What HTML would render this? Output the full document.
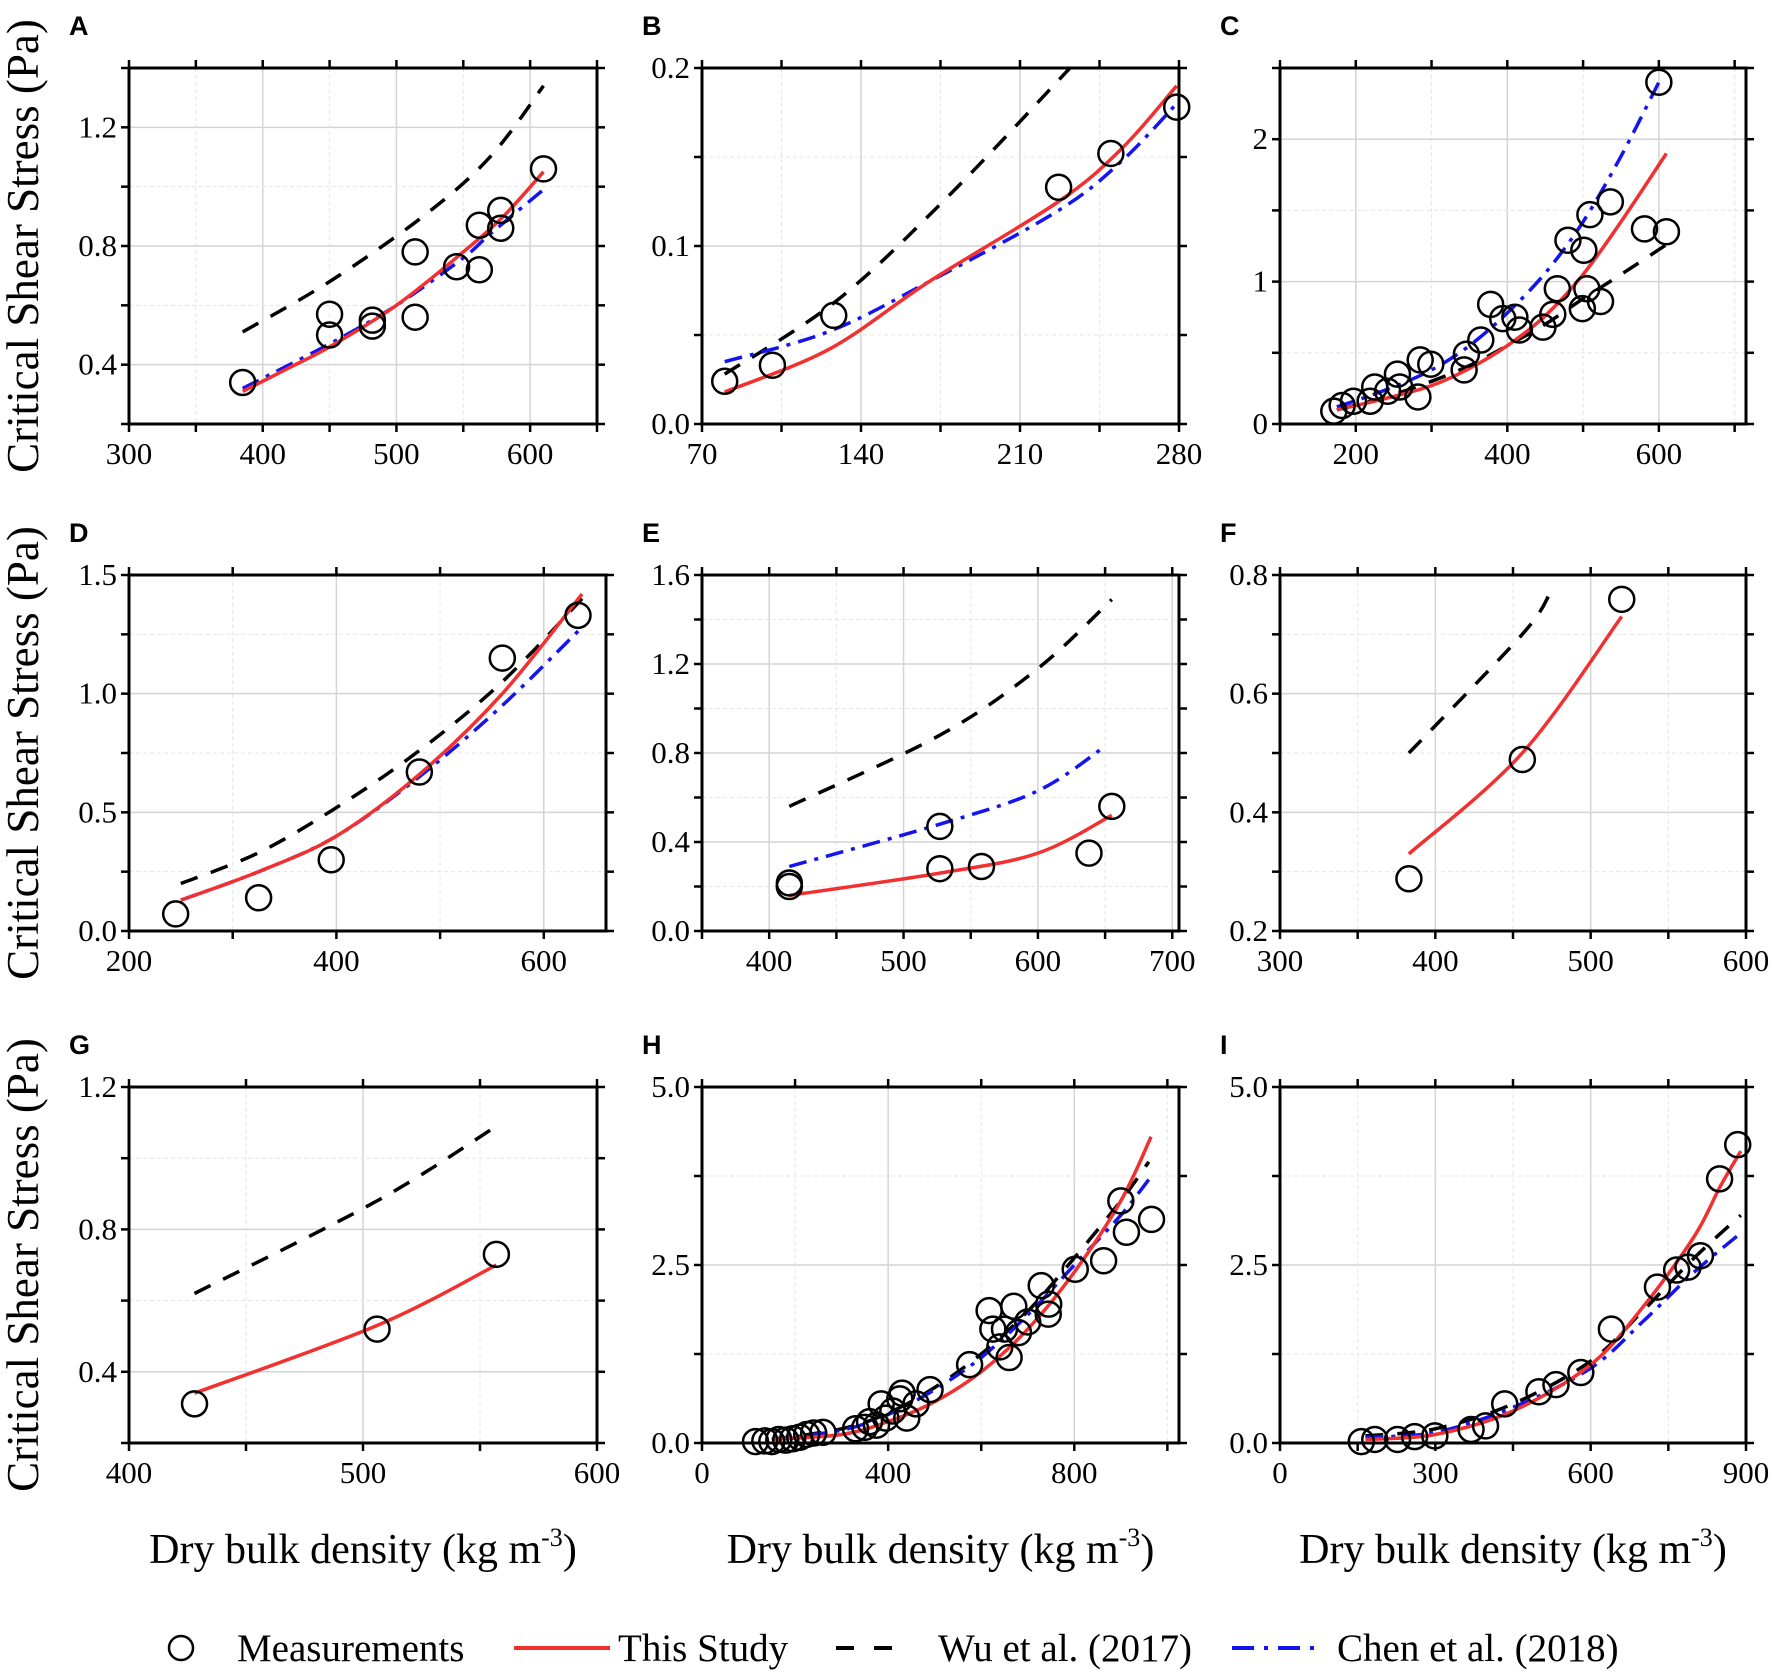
<!DOCTYPE html>
<html><head><meta charset="utf-8"><style>
html,body{margin:0;padding:0;background:#fff}
svg text{font-family:"Liberation Serif","Times New Roman",serif}
</style></head><body>
<svg id="fig" width="1772" height="1672" viewBox="0 0 1772 1672" xmlns="http://www.w3.org/2000/svg"></svg>
<script>
// ---- data ----
const aMeasX=[385,450,450,482,482,514,514,545,562,562,578,578,610];
const aMeasY=[0.34,0.57,0.50,0.55,0.53,0.78,0.56,0.73,0.87,0.72,0.92,0.86,1.06];
const aRedX=[385,420,450,500,550,580,610]; const aRedY=[0.31,0.39,0.46,0.60,0.78,0.90,1.05];
const aBlueX=[385,450,500,550,570,610]; const aBlueY=[0.32,0.47,0.60,0.76,0.84,0.99];
const aBlackX=[385,450,520,570,610]; const aBlackY=[0.51,0.68,0.90,1.10,1.34];

const bMeasX=[80,101,128,227,250,279]; const bMeasY=[0.024,0.033,0.061,0.133,0.152,0.178];
const bRedX=[80,126,170,227,255,279]; const bRedY=[0.018,0.042,0.08,0.125,0.155,0.19];
const bBlueX=[80,126,170,227,255,279]; const bBlueY=[0.035,0.052,0.08,0.12,0.148,0.18];
const bBlackX=[80,130,180,232]; const bBlackY=[0.028,0.07,0.13,0.20];

const cMeasX=[171,182,197,219,225,242,255,258,282,285,299,343,346,365,378,394,410,416,447,460,466,480,499,501,505,509,523,536,581,600,610];
const cMeasY=[0.09,0.13,0.16,0.16,0.26,0.23,0.35,0.26,0.19,0.45,0.42,0.38,0.49,0.59,0.84,0.74,0.75,0.66,0.68,0.77,0.95,1.29,0.81,1.22,0.95,1.47,0.86,1.56,1.37,2.40,1.35];
const cRedX=[175,240,300,350,400,450,500,550,610]; const cRedY=[0.10,0.18,0.27,0.39,0.55,0.76,1.05,1.42,1.90];
const cBlueX=[175,240,300,350,400,450,500,550,600]; const cBlueY=[0.12,0.24,0.38,0.55,0.78,1.06,1.42,1.88,2.40];
const cBlackX=[175,240,300,350,400,450,500,550,610]; const cBlackY=[0.10,0.19,0.30,0.41,0.55,0.70,0.88,1.05,1.26];

const dMeasX=[245,325,395,480,560,633]; const dMeasY=[0.072,0.14,0.30,0.67,1.15,1.33];
const dRedX=[250,325,400,480,560,637]; const dRedY=[0.13,0.25,0.40,0.66,1.0,1.42];
const dBlueX=[250,325,400,480,560,637]; const dBlueY=[0.13,0.25,0.40,0.65,0.95,1.28];
const dBlackX=[250,325,400,480,560,637]; const dBlackY=[0.20,0.33,0.52,0.76,1.05,1.40];

const eMeasX=[415,415,527,527,558,638,655]; const eMeasY=[0.216,0.20,0.47,0.28,0.29,0.35,0.56];
const eRedX=[415,527,600,655]; const eRedY=[0.16,0.26,0.35,0.52];
const eBlueX=[415,527,600,650]; const eBlueY=[0.29,0.48,0.63,0.83];
const eBlackX=[415,527,600,655]; const eBlackY=[0.56,0.88,1.18,1.49];

const fMeasX=[383,456,520]; const fMeasY=[0.288,0.489,0.759];
const fRedX=[383,456,520]; const fRedY=[0.33,0.50,0.73];
const fBlackX=[383,456,474]; const fBlackY=[0.50,0.70,0.77];

const gMeasX=[428,506,557]; const gMeasY=[0.31,0.52,0.73];
const gRedX=[428,506,557]; const gRedY=[0.34,0.53,0.70];
const gBlackX=[428,506,557]; const gBlackY=[0.62,0.88,1.09];

const hMeasX=[115,135,150,165,180,195,210,225,240,260,330,350,360,375,385,395,410,425,430,440,460,490,575,617,625,640,650,660,670,680,700,729,744,745,802,863,900,912,966];
const hMeasY=[0.02,0.03,0.02,0.05,0.04,0.06,0.08,0.12,0.14,0.15,0.20,0.22,0.30,0.25,0.55,0.35,0.45,0.62,0.70,0.35,0.55,0.75,1.10,1.86,1.60,1.35,1.60,1.20,1.92,1.55,1.70,2.21,1.81,1.95,2.44,2.56,3.40,2.96,3.14];
const hRedX=[150,300,400,500,600,700,800,900,965]; const hRedY=[0.05,0.12,0.30,0.58,1.0,1.6,2.4,3.4,4.3];
const hBlueX=[150,300,400,500,600,700,800,900,960]; const hBlueY=[0.05,0.18,0.40,0.75,1.2,1.8,2.5,3.2,3.7];
const hBlackX=[150,300,400,500,600,700,800,900,960]; const hBlackY=[0.05,0.20,0.42,0.78,1.25,1.85,2.6,3.4,3.95];

const iMeasX=[157,183,227,260,299,369,397,434,500,533,581,640,729,766,788,812,849,884];
const iMeasY=[0.02,0.05,0.05,0.09,0.10,0.19,0.24,0.55,0.72,0.82,0.99,1.60,2.19,2.43,2.47,2.63,3.71,4.19];
const iRedX=[165,300,450,600,700,800,850,890]; const iRedY=[0.05,0.12,0.45,1.1,1.9,2.9,3.6,4.1];
const iBlueX=[165,300,450,600,700,800,890]; const iBlueY=[0.08,0.15,0.50,1.05,1.7,2.4,2.95];
const iBlackX=[165,300,450,600,700,800,890]; const iBlackY=[0.10,0.20,0.55,1.15,1.85,2.6,3.2];

const aXTicks=["300","400","500","600"]; const aYTicks=["0.4","0.8","1.2"];
const bXTicks=["70","140","210","280"]; const bYTicks=["0.0","0.1","0.2"];
const cXTicks=["200","400","600"]; const cYTicks=["0","1","2"];
const dXTicks=["200","400","600"]; const dYTicks=["0.0","0.5","1.0","1.5"];
const eXTicks=["400","500","600","700"]; const eYTicks=["0.0","0.4","0.8","1.2","1.6"];
const fXTicks=["300","400","500","600"]; const fYTicks=["0.2","0.4","0.6","0.8"];
const gXTicks=["400","500","600"]; const gYTicks=["0.4","0.8","1.2"];
const hXTicks=["0","400","800"]; const hYTicks=["0.0","2.5","5.0"];
const iXTicks=["0","300","600","900"]; const iYTicks=["0.0","2.5","5.0"];

// ---- layout ----
const NS="http://www.w3.org/2000/svg";
const SERIF='"Liberation Serif","Times New Roman",serif';
const svg=document.getElementById('fig');
function mk(tag,attrs,parent){const e=document.createElementNS(NS,tag);for(const k in attrs)e.setAttribute(k,attrs[k]);(parent||svg).appendChild(e);return e;}
const COLS=[[129,597],[702,1179],[1280,1746]];
const ROWS=[[68,424],[575,931],[1087,1443]];

const panels=[
 {id:'a',L:'A',c:0,r:0,xr:[300,650],yr:[0.2,1.4],xt:aXTicks,yt:aYTicks,xminor:50,yminor:0.2,m:[aMeasX,aMeasY],red:[aRedX,aRedY],blue:[aBlueX,aBlueY],black:[aBlackX,aBlackY]},
 {id:'b',L:'B',c:1,r:0,xr:[70,280],yr:[0,0.2],xt:bXTicks,yt:bYTicks,xminor:35,yminor:0.05,m:[bMeasX,bMeasY],red:[bRedX,bRedY],blue:[bBlueX,bBlueY],black:[bBlackX,bBlackY]},
 {id:'c',L:'C',c:2,r:0,xr:[100,715],yr:[0,2.5],xt:cXTicks,yt:cYTicks,xminor:100,yminor:0.5,m:[cMeasX,cMeasY],red:[cRedX,cRedY],blue:[cBlueX,cBlueY],black:[cBlackX,cBlackY]},
 {id:'d',L:'D',c:0,r:1,xr:[200,660],yr:[0,1.5],xt:dXTicks,yt:dYTicks,xminor:100,yminor:0.25,m:[dMeasX,dMeasY],red:[dRedX,dRedY],blue:[dBlueX,dBlueY],black:[dBlackX,dBlackY],right:606},
 {id:'e',L:'E',c:1,r:1,xr:[350,705],yr:[0,1.6],xt:eXTicks,yt:eYTicks,xminor:50,yminor:0.2,m:[eMeasX,eMeasY],red:[eRedX,eRedY],blue:[eBlueX,eBlueY],black:[eBlackX,eBlackY]},
 {id:'f',L:'F',c:2,r:1,xr:[300,600],yr:[0.2,0.8],xt:fXTicks,yt:fYTicks,xminor:50,yminor:0.1,m:[fMeasX,fMeasY],red:[fRedX,fRedY],blue:null,black:[fBlackX,fBlackY]},
 {id:'g',L:'G',c:0,r:2,xr:[400,600],yr:[0.2,1.2],xt:gXTicks,yt:gYTicks,xminor:50,yminor:0.2,m:[gMeasX,gMeasY],red:[gRedX,gRedY],blue:null,black:[gBlackX,gBlackY]},
 {id:'h',L:'H',c:1,r:2,xr:[0,1025],yr:[0,5],xt:hXTicks,yt:hYTicks,xminor:200,yminor:1.25,m:[hMeasX,hMeasY],red:[hRedX,hRedY],blue:[hBlueX,hBlueY],black:[hBlackX,hBlackY]},
 {id:'i',L:'I',c:2,r:2,xr:[0,900],yr:[0,5],xt:iXTicks,yt:iYTicks,xminor:150,yminor:1.25,m:[iMeasX,iMeasY],red:[iRedX,iRedY],blue:[iBlueX,iBlueY],black:[iBlackX,iBlackY]}
];

function smoothPath(xs,ys,sx,sy){
  const p=xs.map((x,i)=>[sx(x),sy(ys[i])]);
  let d='M'+p[0][0].toFixed(1)+','+p[0][1].toFixed(1);
  for(let i=0;i<p.length-1;i++){
    const p0=p[i-1]||p[i],p1=p[i],p2=p[i+1],p3=p[i+2]||p2;
    const c1=[p1[0]+(p2[0]-p0[0])/6,p1[1]+(p2[1]-p0[1])/6];
    const c2=[p2[0]-(p3[0]-p1[0])/6,p2[1]-(p3[1]-p1[1])/6];
    d+=' C'+c1[0].toFixed(1)+','+c1[1].toFixed(1)+' '+c2[0].toFixed(1)+','+c2[1].toFixed(1)+' '+p2[0].toFixed(1)+','+p2[1].toFixed(1);
  }
  return d;
}

panels.forEach(P=>{
  const x0=COLS[P.c][0], x1=P.right||COLS[P.c][1], y0=ROWS[P.r][0], y1=ROWS[P.r][1];
  const sx=v=>x0+(v-P.xr[0])/(P.xr[1]-P.xr[0])*(x1-x0);
  const sy=v=>y1-(v-P.yr[0])/(P.yr[1]-P.yr[0])*(y1-y0);
  const g=mk('g',{});
  
  
  const clipId='clip'+P.id;
  const cp=mk('clipPath',{id:clipId},g); mk('rect',{x:x0,y:y0,width:x1-x0,height:y1-y0},cp);
  const xmaj=P.xt.map(Number), ymaj=P.yt.map(Number);
  const eps=1e-6;
  const grid=mk('g',{},g);
  
  
  const ticks=mk('g',{stroke:'#000','stroke-width':2.5},g);
  
  
  let start=Math.ceil((P.xr[0]-eps)/P.xminor)*P.xminor;
  for(let v=start;v<=P.xr[1]+eps;v+=P.xminor){
    const X=sx(v); const isMaj=xmaj.some(m=>Math.abs(m-v)<eps);
    if(X>x0+2&&X<x1-2) mk('line',{x1:X,x2:X,y1:y0,y2:y1,stroke:isMaj?'#d4d4d4':'#e6e6e6','stroke-width':isMaj?1.5:1,'stroke-dasharray':isMaj?'':'4,3'},grid);
    mk('line',{x1:X,x2:X,y1:y1,y2:y1+8},ticks); mk('line',{x1:X,x2:X,y1:y0,y2:y0-8},ticks);
  }
  start=Math.ceil((P.yr[0]-eps)/P.yminor)*P.yminor;
  for(let v=start;v<=P.yr[1]+eps;v+=P.yminor){
    const Y=sy(v); const isMaj=ymaj.some(m=>Math.abs(m-v)<eps);
    if(Y>y0+2&&Y<y1-2) mk('line',{x1:x0,x2:x1,y1:Y,y2:Y,stroke:isMaj?'#d4d4d4':'#e6e6e6','stroke-width':isMaj?1.5:1,'stroke-dasharray':isMaj?'':'4,3'},grid);
    mk('line',{x1:x0-8,x2:x0,y1:Y,y2:Y},ticks); mk('line',{x1:x1,x2:x1+8,y1:Y,y2:Y},ticks);
  }
  P.xt.forEach(t=>{const tx=mk('text',{x:sx(Number(t)),y:y1+40,'font-size':31,'font-family':SERIF,'text-anchor':'middle',fill:'#000'},g);tx.textContent=t;
    });
  P.yt.forEach(t=>{const tx=mk('text',{x:x0-12,y:sy(Number(t))+10,'font-size':31,'font-family':SERIF,'text-anchor':'end',fill:'#000'},g);tx.textContent=t;
    });
  const sg=mk('g',{'clip-path':'url(#'+clipId+')'},g);
  if(P.black){const e=mk('path',{d:smoothPath(P.black[0],P.black[1],sx,sy),fill:'none',stroke:'#000','stroke-width':3.5,'stroke-dasharray':'18,14'},sg);
    }
  if(P.blue){const e=mk('path',{d:smoothPath(P.blue[0],P.blue[1],sx,sy),fill:'none',stroke:'#1414f0','stroke-width':3.5,'stroke-dasharray':'18,8,4,8'},sg);
    }
  if(P.red){const e=mk('path',{d:smoothPath(P.red[0],P.red[1],sx,sy),fill:'none',stroke:'#f23030','stroke-width':3.5},sg);
    }
  P.m[0].forEach((x,i)=>{const e=mk('circle',{cx:sx(x),cy:sy(P.m[1][i]),r:12.5,fill:'none',stroke:'#000','stroke-width':2.5},g);
    });
  const fr=mk('rect',{x:x0,y:y0,width:x1-x0,height:y1-y0,fill:'none',stroke:'#000','stroke-width':3},g);
  
  const lt=mk('text',{x:COLS[P.c][0]-60,y:y0-33,'font-size':27,'font-weight':'bold',style:'font-family:"Liberation Sans",sans-serif',fill:'#000'},g);
  lt.textContent=P.L; 
});

ROWS.forEach(R=>{const cy=(R[0]+R[1])/2;const t=mk('text',{x:0,y:0,transform:'translate(38,'+cy+') rotate(-90)','font-size':45,'font-family':SERIF,'text-anchor':'middle',fill:'#000'});
  t.textContent='Critical Shear Stress (Pa)';});
COLS.forEach(C=>{const cx=(C[0]+C[1])/2;const t=mk('text',{x:cx,y:1563,'font-size':42,'font-family':SERIF,'text-anchor':'middle',fill:'#000'});
  
  t.appendChild(document.createTextNode('Dry bulk density (kg m'));
  const s=mk('tspan',{'font-size':26,dy:-17},t);s.textContent='-3';
  const e=mk('tspan',{dy:17},t);e.textContent=')';});

const lg=mk('g',{});


const LY=1648;
mk('circle',{cx:181,cy:LY,r:12,fill:'none',stroke:'#000','stroke-width':2.5},lg);
mk('line',{x1:514,x2:610,y1:LY,y2:LY,stroke:'#f23030','stroke-width':4},lg);
mk('line',{x1:836,x2:906,y1:LY,y2:LY,stroke:'#000','stroke-width':4,'stroke-dasharray':'18,20'},lg);
mk('line',{x1:1232,x2:1322,y1:LY,y2:LY,stroke:'#1414f0','stroke-width':4,'stroke-dasharray':'22,10,4,10'},lg);
[[237,'Measurements','legend-measurements'],[618,'This Study','legend-this-study'],[938,'Wu et al. (2017)','legend-wu-2017'],[1337,'Chen et al. (2018)','legend-chen-2018']].forEach(a=>{
  const t=mk('text',{x:a[0],y:LY+13,'font-size':39,'font-family':SERIF,fill:'#000'},lg);t.textContent=a[1];
  });
</script>
</body></html>
